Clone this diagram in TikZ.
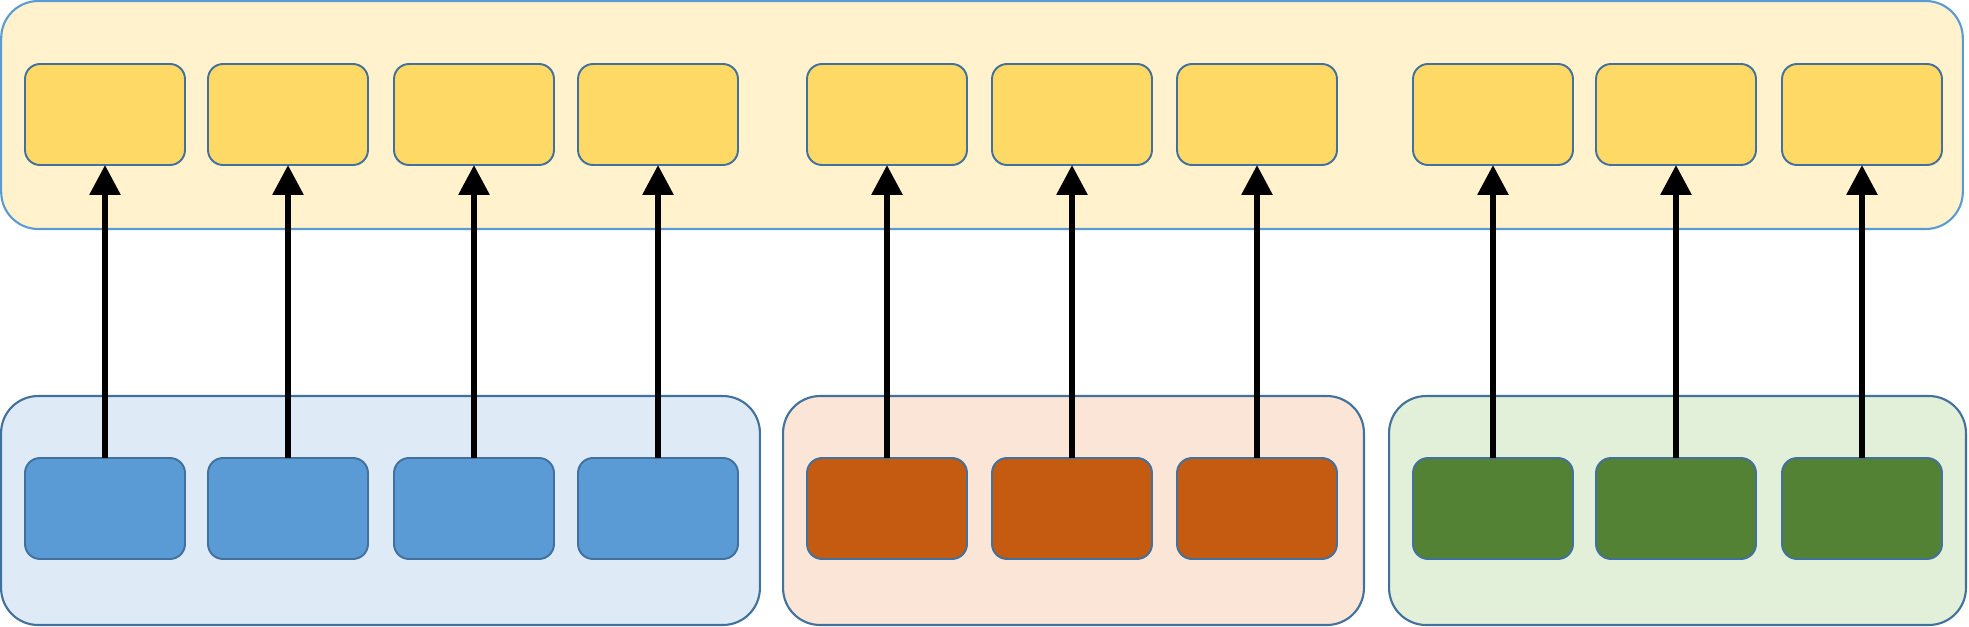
\documentclass[tikz,border=0pt]{standalone}
\usetikzlibrary{arrows.meta}
\definecolor{topfill}{HTML}{FFF2CC}
\definecolor{topline}{HTML}{5B9BD5}
\definecolor{edgeline}{HTML}{41719C}
\definecolor{cellyellow}{HTML}{FFD966}
\definecolor{bluefill}{HTML}{DEEBF7}
\definecolor{cellblue}{HTML}{5B9BD5}
\definecolor{orangefill}{HTML}{FBE5D6}
\definecolor{cellorange}{HTML}{C55A11}
\definecolor{greenfill}{HTML}{E2F0D9}
\definecolor{cellgreen}{HTML}{548235}
\tikzset{
  panel/.style={draw=edgeline, line width=1.2pt, rounded corners=0.74cm, minimum height=4.58cm},
  cell/.style={draw=edgeline, line width=1.1pt, rounded corners=0.3cm, minimum width=3.2cm, minimum height=2.02cm},
  link/.style={line width=3.4pt, -{Triangle[length=0.6cm, width=0.6cm]}}
}
\begin{document}
\begin{tikzpicture}[x=0.02cm, y=-0.02cm, every node/.style={inner sep=0pt, outer sep=0pt}]
    \useasboundingbox (0,0) rectangle (1969,626);

    % Верхняя панель
    \node[panel, draw=topline, fill=topfill, minimum width=39.24cm, minimum height=4.56cm] (top) at (982,115) {};

    % Нижние панели
    \node[panel, fill=bluefill, minimum width=15.18cm] (blue) at (380.5,510.5) {};
    \node[panel, fill=orangefill, minimum width=11.62cm] (orange) at (1073.5,510.5) {};
    \node[panel, fill=greenfill, minimum width=11.54cm] (green) at (1677.5,510.5) {};

    % Верхние блоки
    \foreach \i/\x in {1/105,2/288,3/474,4/658,5/887,6/1072,7/1257,8/1493,9/1676,10/1862}
        \node[cell, fill=cellyellow] (t\i) at (\x,114.5) {};

    % Нижние блоки
    \foreach \i/\x/\c in {1/105/cellblue,2/288/cellblue,3/474/cellblue,4/658/cellblue,
                          5/887/cellorange,6/1072/cellorange,7/1257/cellorange,
                          8/1493/cellgreen,9/1676/cellgreen,10/1862/cellgreen}
        \node[cell, fill=\c] (b\i) at (\x,508.5) {};

    % Стрелки
    \foreach \i in {1,...,10}
        \draw[link] (b\i) -- (t\i);
\end{tikzpicture}
\end{document}
